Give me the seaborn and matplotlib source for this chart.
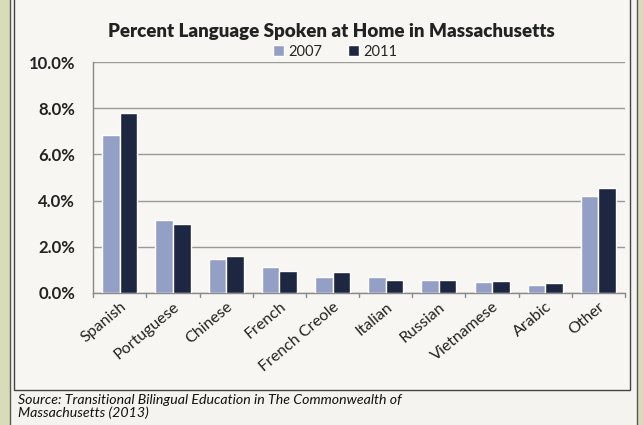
import matplotlib
matplotlib.use("Agg")
import matplotlib.pyplot as plt
import matplotlib.patches as mpatches
from matplotlib.ticker import FuncFormatter, MultipleLocator
import seaborn as sns
import pandas as pd

languages = ["Spanish", "Portuguese", "Chinese", "French", "French Creole",
             "Italian", "Russian", "Vietnamese", "Arabic", "Other"]
pct_2007 = [6.85, 3.15, 1.45, 1.1, 0.7, 0.7, 0.55, 0.45, 0.35, 4.2]
pct_2011 = [7.8, 3.0, 1.6, 0.95, 0.9, 0.55, 0.55, 0.5, 0.42, 4.55]
years = ["2007", "2011"]
title = "Percent Language Spoken at Home in Massachusetts"
source = "Source: Transitional Bilingual Education in The Commonwealth of\nMassachusetts (2013)"

df = pd.DataFrame({
    "Language": languages * 2,
    "Year": [years[0]] * len(languages) + [years[1]] * len(languages),
    "Percent": pct_2007 + pct_2011,
})

sns.set_theme(style="white")
plt.rcParams["font.family"] = ["Lato", "DejaVu Sans"]

fig = plt.figure(figsize=(6.43, 4.25), dpi=100)
fig.patch.set_facecolor("#d9dcb8")
# slide panel
panel = mpatches.Rectangle((0.015, -0.01), 0.975, 1.02, transform=fig.transFigure,
                           facecolor="#f4f3ef", edgecolor="#555555", lw=1.0, zorder=-10)
fig.patches.append(panel)
frame = mpatches.Rectangle((0.022, 0.082), 0.958, 0.93, transform=fig.transFigure,
                           facecolor="#f7f6f2", edgecolor="#444444", lw=1.0, zorder=-9)
fig.patches.append(frame)

ax = fig.add_axes([0.145, 0.311, 0.827, 0.543])
ax.set_facecolor("none")
sns.barplot(data=df, x="Language", y="Percent", hue="Year",
            palette={"2007": "#939fc4", "2011": "#1d2742"},
            width=0.66, ax=ax, saturation=1, zorder=3)

ax.set_ylim(0, 10)
ax.yaxis.set_major_locator(MultipleLocator(2))
ax.yaxis.set_major_formatter(FuncFormatter(lambda v, p: f"{v:.1f}%"))
ax.grid(axis="y", color="#9a9a9a", lw=1.0, zorder=0)
ax.set_axisbelow(True)
ax.set_xlabel("")
ax.set_ylabel("")
for s in ["top", "right"]:
    ax.spines[s].set_visible(False)
for s in ["left", "bottom"]:
    ax.spines[s].set_color("#8a8a8a")
    ax.spines[s].set_linewidth(1.0)
ax.tick_params(axis="y", labelsize=12, colors="#222222", length=0, pad=13)
for lab in ax.get_yticklabels():
    lab.set_fontweight("bold")
ax.set_xticks(range(len(languages)))
ax.set_xticklabels(languages, rotation=40, ha="right", rotation_mode="anchor",
                   fontsize=11.5, color="#222222")
ax.tick_params(axis="x", length=0, pad=5)
# category separator ticks
for i in range(len(languages) + 1):
    ax.plot([i - 0.5, i - 0.5], [0, -0.2], color="#8a8a8a", lw=1, clip_on=False)
ax.set_xlim(-0.5, len(languages) - 0.5)

leg = ax.legend(loc="lower center", bbox_to_anchor=(0.455, 0.99), ncol=2,
                frameon=False, fontsize=10.5, handlelength=0.7, handleheight=0.7,
                columnspacing=1.8, handletextpad=0.3, borderaxespad=0)

fig.text(0.515, 0.925, title, ha="center", va="center", fontsize=13.5,
         fontweight="heavy", color="#222222")
fig.text(0.028, 0.072, source, ha="left", va="top", fontsize=10.2,
         fontstyle="italic", color="#111111", linespacing=1.05)

fig.savefig("out.png", dpi=100, facecolor=fig.get_facecolor())
